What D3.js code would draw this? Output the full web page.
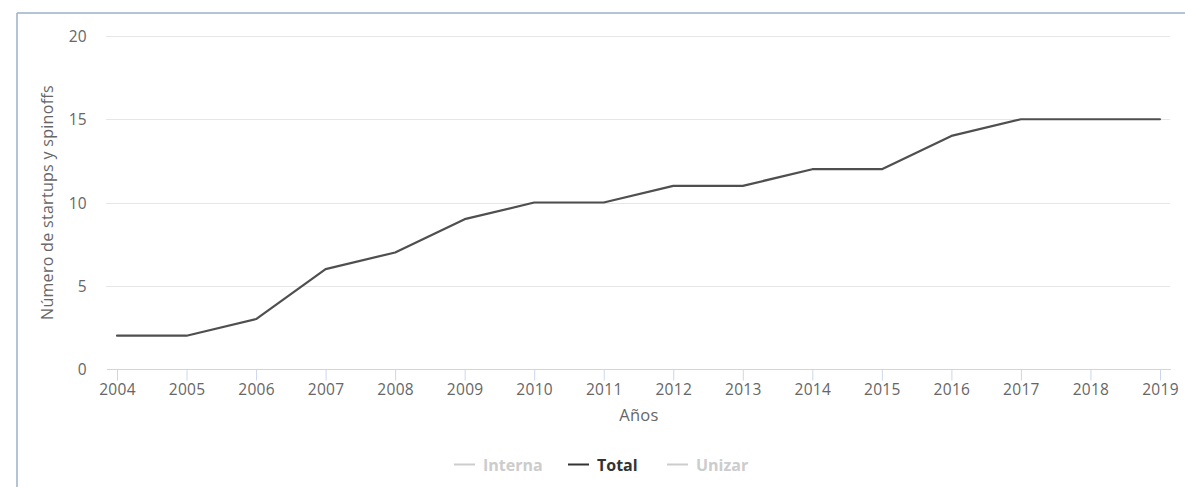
<!DOCTYPE html>
<html>
<head>
<meta charset="utf-8">
<script src="https://cdn.jsdelivr.net/npm/d3@7"></script>
<style>
  html, body { margin: 0; padding: 0; background: #fff; }
  svg { display: block; }
  text { font-family: "Open Sans", "DejaVu Sans", sans-serif; }
</style>
</head>
<body>
<svg id="chart" width="1185" height="487"></svg>
<script>
const years = [2004, 2005, 2006, 2007, 2008, 2009, 2010, 2011, 2012, 2013, 2014, 2015, 2016, 2017, 2018, 2019];
const totalValues = [2, 2, 3, 6, 7, 9, 10, 10, 11, 11, 12, 12, 14, 15, 15, 15];
const yTicks = [0, 5, 10, 15, 20];
const legendItems = ["Interna", "Total", "Unizar"];
const legendVisible = [false, true, false];
const yTitle = "Número de startups y spinoffs";
const xTitle = "Años";

const svg = d3.select("#chart");

// outer border (left and top edges visible)
svg.append("line").attr("x1", 17).attr("x2", 17).attr("y1", 13).attr("y2", 487)
  .attr("stroke", "#9bb0c8").attr("stroke-width", 1.5);
svg.append("line").attr("x1", 17).attr("x2", 1185).attr("y1", 13).attr("y2", 13)
  .attr("stroke", "#9bb0c8").attr("stroke-width", 1.5);

const x = d3.scaleLinear().domain([2004 - 0.144, 2019 + 0.144]).range([107, 1170]);
const y = d3.scaleLinear().domain([0, 20]).range([369, 36]);

// grid
svg.append("g").selectAll("line").data(yTicks.filter(d => d !== 0)).join("line")
  .attr("x1", 106).attr("x2", 1170)
  .attr("y1", d => Math.round(y(d)) + 0.5).attr("y2", d => Math.round(y(d)) + 0.5)
  .attr("stroke", "#e6e6e6").attr("stroke-width", 1);

// y labels
const yAxis = d3.axisLeft(y).tickValues(yTicks).tickSize(0).tickPadding(0);
const gy = svg.append("g").attr("transform", "translate(87,0)").call(yAxis);
gy.select(".domain").remove();
gy.selectAll("text").attr("fill", "#666").attr("font-size", "15.5px")
  .attr("font-family", "'Open Sans', sans-serif").attr("dy", "0.36em")
  .attr("letter-spacing", "0.3px");

// x axis
const xAxis = d3.axisBottom(x).tickValues(years).tickFormat(d3.format("d")).tickSize(11).tickPadding(3);
const gx = svg.append("g").attr("transform", "translate(0,369.5)").call(xAxis);
gx.select(".domain").attr("stroke", "#ccd6eb").attr("d", "M107,0H1171");
gx.selectAll(".tick line").attr("stroke", "#ccd6eb");
gx.selectAll("text").attr("fill", "#666").attr("font-size", "15.5px")
  .attr("font-family", "'Open Sans', sans-serif").attr("letter-spacing", "0.3px");

// line
const line = d3.line().x((d, i) => x(years[i])).y(d => y(d));
svg.append("path").datum(totalValues).attr("d", line)
  .attr("fill", "none").attr("stroke", "#4f4f4f").attr("stroke-width", 2.2)
  .attr("stroke-linejoin", "round").attr("stroke-linecap", "round");

// axis titles
svg.append("text").attr("x", 639).attr("y", 421).attr("text-anchor", "middle")
  .attr("fill", "#666").attr("font-size", "16.5px").attr("letter-spacing", "0.3px").text(xTitle);
svg.append("text").attr("transform", "translate(52.5,202.5) rotate(-90)").attr("text-anchor", "middle")
  .attr("fill", "#666").attr("font-size", "16px").attr("letter-spacing", "0.3px").text(yTitle);

// legend
const legendX = [454, 568, 667];
const lg = svg.append("g");
legendItems.forEach((name, i) => {
  const col = legendVisible[i] ? "#333" : "#cccccc";
  lg.append("line").attr("x1", legendX[i]).attr("x2", legendX[i] + 21)
    .attr("y1", 464.5).attr("y2", 464.5).attr("stroke", col).attr("stroke-width", 2);
  lg.append("text").attr("x", legendX[i] + 29).attr("y", 470.5)
    .attr("fill", col).attr("font-size", "16px").attr("font-weight", "bold").text(name);
});
</script>
</body>
</html>
